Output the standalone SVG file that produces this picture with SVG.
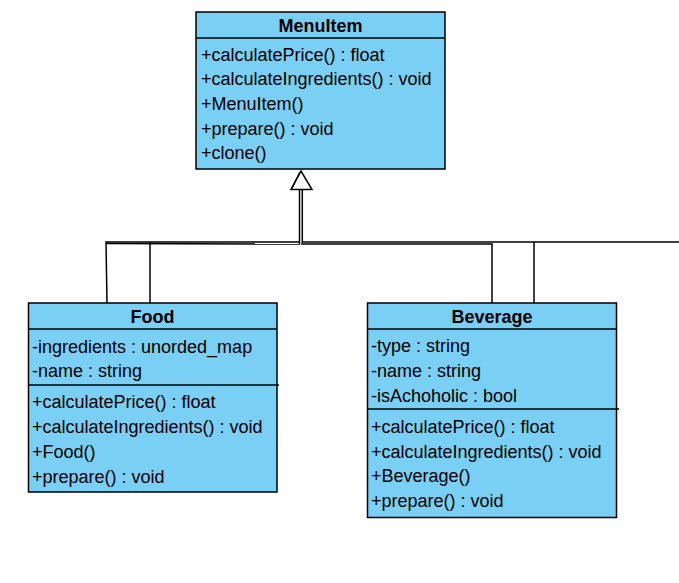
<svg xmlns="http://www.w3.org/2000/svg" width="679" height="583" viewBox="0 0 679 583">
<style>
.box{fill:#7ACFF5;stroke:#000;stroke-width:1.5}
.sep{stroke:#000;stroke-width:1.5}
.t{font-family:"Liberation Sans",Arial,sans-serif;font-size:18px;fill:#000}
.h{font-family:"Liberation Sans",Arial,sans-serif;font-size:18px;font-weight:bold;fill:#000;text-anchor:middle}
.c{fill:none;stroke:#000;stroke-width:1.5}
</style>
<rect width="679" height="583" fill="#fff"/>
<g id="connectors">
<path class="c" d="M107,303 L106,242 L300,242"/>
<path class="c" d="M150,303 L150,242"/>
<path class="c" d="M301,244 L492,244 L492,303"/>
<path class="c" d="M302,242 L679,242"/>
<path class="c" d="M534,303 L534,242"/>
<path class="c" d="M106,243.5 L300,244"/>
<path class="c" d="M299.5,190 L299.5,244"/>
<path class="c" d="M302.3,190 L302.3,243"/>
<polygon points="301,171 291,189.5 312,189.5" fill="#fff" stroke="#000" stroke-width="1.5"/>
<path class="c" d="M300,172 L292,188" stroke-width="1"/>
</g>
<g id="MenuItem">
<rect class="box" x="196" y="12" width="249" height="157"/>
<line class="sep" x1="196" y1="38" x2="445" y2="38"/>
<text class="h" x="320.5" y="31.5">MenuItem</text>
<text class="t" x="201" y="60.5">+calculatePrice() : float</text>
<text class="t" x="201" y="85">+calculateIngredients() : void</text>
<text class="t" x="201" y="110">+MenuItem()</text>
<text class="t" x="201" y="134.5">+prepare() : void</text>
<text class="t" x="201" y="159">+clone()</text>
</g>
<g id="Food">
<rect class="box" x="28.5" y="303" width="248.5" height="189"/>
<line class="sep" x1="28.5" y1="329" x2="277" y2="329"/>
<line class="sep" x1="28.5" y1="385" x2="279" y2="385"/>
<text class="h" x="152.5" y="322.7">Food</text>
<text class="t" x="32" y="352.5">-ingredients : unorded_map</text>
<text class="t" x="32" y="377.3">-name : string</text>
<text class="t" x="32" y="408">+calculatePrice() : float</text>
<text class="t" x="32" y="433">+calculateIngredients() : void</text>
<text class="t" x="32" y="458">+Food()</text>
<text class="t" x="32" y="483">+prepare() : void</text>
</g>
<g id="Beverage">
<rect class="box" x="367.5" y="303" width="249" height="214.5"/>
<line class="sep" x1="367.5" y1="329" x2="616.5" y2="329"/>
<line class="sep" x1="367.5" y1="409" x2="619" y2="409"/>
<text class="h" x="492" y="322.7">Beverage</text>
<text class="t" x="371" y="352">-type : string</text>
<text class="t" x="371" y="377">-name : string</text>
<text class="t" x="371" y="401.5">-isAchoholic : bool</text>
<text class="t" x="371" y="432.5">+calculatePrice() : float</text>
<text class="t" x="371" y="457.5">+calculateIngredients() : void</text>
<text class="t" x="371" y="482">+Beverage()</text>
<text class="t" x="371" y="507">+prepare() : void</text>
</g>
</svg>
